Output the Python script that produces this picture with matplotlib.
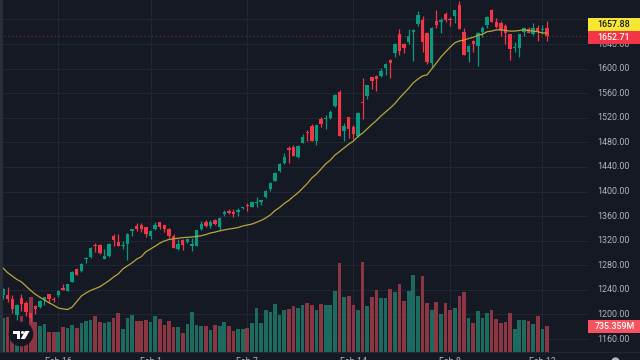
import matplotlib
matplotlib.use("Agg")
import matplotlib.pyplot as plt
from matplotlib.patches import Circle, Polygon, Rectangle

opens = [1232,1232,1225,1199,1227,1219,1202,1214,1212,1223,1233,1225,1232,1243,1238,1253,1274,1271,1291,1293,
         1313,1313,1290,1295,1328,1318,1311,1315,1336,1344,1345,1342,1328,1339,1350,1345,1339,1328,1306,1321,
         1318,1311,1311,1339,1350,1344,1354,1342,1363,1368,1367,1367,1373,1378,1375,1381,1383,1391,1404,1417,
         1433,1446,1471,1472,1456,1479,1497,1507,1482,1518,1518,1520,1539,1562,1498,1521,1505,1490,1546,1555,
         1586,1588,1588,1601,1614,1625,1656,1640,1643,1660,1673,1679,1658,1609,1677,1676,1689,1681,1686,1703,
         1660,1627,1645,1637,1660,1671,1695,1676,1674,1669,1656,1634,1634,1660,1664,1656,1666,1663,1666]
highs = [1243,1245,1232,1217,1233,1222,1203,1215,1224,1229,1234,1228,1240,1249,1249,1270,1275,1284,1293,1309,
         1316,1314,1306,1316,1331,1331,1319,1332,1339,1349,1349,1343,1337,1350,1351,1346,1341,1331,1323,1322,
         1325,1325,1338,1352,1354,1354,1355,1358,1370,1372,1372,1373,1375,1381,1384,1391,1387,1402,1415,1431,
         1446,1463,1474,1476,1475,1494,1500,1510,1509,1521,1525,1533,1558,1565,1511,1522,1508,1529,1585,1574,
         1587,1589,1601,1609,1615,1641,1664,1642,1664,1664,1694,1686,1659,1667,1695,1682,1692,1684,1696,1710,
         1666,1638,1646,1659,1669,1685,1697,1682,1678,1672,1657,1643,1657,1667,1668,1674,1671,1671,1677]
lows = [1225,1220,1202,1191,1206,1198,1188,1201,1210,1215,1219,1220,1228,1240,1238,1252,1264,1269,1284,1292,
        1302,1298,1290,1294,1311,1311,1306,1289,1328,1336,1334,1326,1323,1337,1339,1334,1325,1308,1305,1305,
        1316,1303,1311,1337,1342,1341,1346,1337,1360,1363,1359,1360,1372,1368,1374,1375,1378,1390,1401,1417,
        1432,1445,1446,1458,1454,1479,1482,1482,1476,1505,1502,1518,1538,1490,1482,1487,1486,1489,1518,1551,
        1567,1564,1586,1590,1585,1619,1622,1625,1640,1612,1669,1627,1607,1603,1666,1658,1676,1669,1674,1664,
        1622,1611,1627,1604,1651,1666,1675,1666,1653,1640,1614,1627,1619,1653,1658,1655,1645,1656,1645]
closes = [1241,1225,1209,1215,1217,1204,1194,1209,1222,1228,1225,1224,1238,1240,1249,1269,1264,1282,1292,1308,
          1311,1300,1295,1315,1321,1311,1313,1331,1338,1339,1339,1331,1336,1345,1342,1339,1328,1308,1315,1313,
          1323,1315,1337,1347,1344,1350,1347,1357,1367,1365,1363,1370,1375,1376,1383,1382,1386,1401,1414,1430,
          1445,1456,1468,1458,1474,1489,1495,1482,1508,1510,1520,1529,1557,1490,1507,1502,1494,1528,1544,1573,
          1580,1583,1596,1607,1609,1640,1629,1634,1653,1663,1687,1643,1611,1666,1671,1679,1679,1679,1695,1664,
          1622,1637,1640,1658,1666,1684,1676,1668,1663,1658,1632,1635,1656,1666,1658,1666,1660,1664,1652.71]
ma = [1275.6,1268,1262.5,1257,1253,1246,1239,1233,1228,1223.5,1219,1215,1210.5,1209,1208,1212,1221,1230,1235,1239,
      1242,1245,1250,1255,1261,1266,1274,1279,1284,1290,1294,1302,1306.5,1311,1316,1319.5,1322,1323,1324,1325,
      1325.5,1326,1327,1328,1330,1332.5,1334,1336,1337.5,1339,1340,1341.5,1344,1345.5,1347,1350,1353,1357,1362,1369,
      1374,1380.5,1385.5,1392,1398,1405.4,1413,1422,1428.5,1436.6,1445,1451,1459.4,1465,1471,1477,1482,1489.5,1495,1502,
      1509,1515.5,1523,1529.5,1536,1543,1552,1560,1568,1577,1583,1588,1590,1599.5,1609,1619,1627,1635,1642,1645,
      1646.5,1649,1651,1654,1656,1660,1661,1663,1663,1662,1661,1661,1662,1663,1662,1661,1660,1658,1657.88]
volumes = [972,1001,572,343,1021,715,1573,849,735,792,572,563,563,706,686,772,686,821,878,915,
           1021,849,821,849,972,1107,649,964,1050,878,878,915,849,1021,935,764,878,706,706,535,
           792,1135,764,754,754,640,774,735,859,735,592,669,650,697,840,1269,821,1193,1145,1384,
           1060,1193,1231,1307,1250,1355,1412,1336,1193,1384,1336,1355,1736,2547,1565,1612,1336,1193,2585,1307,
           1565,1765,1536,1536,1803,1708,1937,1450,1736,2194,1593,2165,1412,1193,1431,1079,1412,1212,1250,1612,
           1717,983,821,1164,983,1107,1212,945,840,859,1107,669,926,907,878,793,1040,669,735.359]

price_ticks = [1160,1200,1240,1280,1320,1360,1400,1440,1480,1520,1560,1600,1640]
date_pos = [12,32,53,76,97,117]
date_labels = ["Feb 16","Feb 1","Feb 7","Feb 14","Feb 8","Feb 13"]

BG = "#151924"
GRID = "#222632"
UP = "#089981"
DOWN = "#f23645"
TXT = "#b2b5be"
FONT = "Roboto"

fig = plt.figure(figsize=(6.4, 3.6), dpi=100, facecolor=BG)

# main pane, 588x352 px
ax = fig.add_axes([0, 8 / 360, 588 / 640, 352 / 360], facecolor=BG)
ax.set_xlim(-0.651, 126.9)
ax.set_ylim(1138.9, 1711.6)
for s in ax.spines.values():
    s.set_visible(False)
ax.set_yticks(price_ticks + [1680])
ax.set_xticks(date_pos)
ax.tick_params(length=0, labelleft=False, labelbottom=False)
ax.grid(color=GRID, lw=0.8)
ax.set_axisbelow(True)

# volume shares the x axis, bottom pane scale is in millions
vax = ax.twinx()
vax.set_ylim(0, 10067)
vax.axis("off")
xs = list(range(len(closes)))
up = [c >= o for o, c in zip(opens, closes)]
vcol = ["#1d6a5f" if u else "#8c3644" for u in up]
vax.bar(xs, volumes, width=0.8, color=vcol, zorder=1)

# candles on a third layer so they sit over the volume
cax = ax.twinx()
cax.set_ylim(ax.get_ylim())
cax.axis("off")
ccol = [UP if u else DOWN for u in up]
cax.vlines(xs, lows, highs, colors=ccol, lw=0.9, zorder=2)
cax.bar(xs, [abs(c - o) + 0.6 for o, c in zip(opens, closes)],
        bottom=[min(o, c) - 0.3 for o, c in zip(opens, closes)],
        width=0.74, color=ccol, zorder=3)
cax.plot(xs, ma, color="#b8a63a", lw=0.9, zorder=4)
cax.axhline(closes[-1], color=DOWN, lw=0.7, ls=(0, (1, 3)), alpha=0.6, zorder=4)

# overlay in pixel coords for the price scale, boxes and logo
ov = fig.add_axes([0, 0, 1, 1], facecolor="none")
ov.set_xlim(0, 640)
ov.set_ylim(360, 0)
ov.axis("off")
ov.add_patch(Rectangle((0, 0), 3, 352, color="#2a2e39", lw=0))
ov.plot([0, 640], [352, 352], color=GRID, lw=0.8)

py = lambda p: (1711.6 - p) / 1.627
for p in price_ticks:
    ov.text(597, py(p), f"{p:.2f}", color=TXT, fontsize=6.4, family=FONT, va="center", ha="left", zorder=3)
for i, lab in zip(date_pos, date_labels):
    ov.text(3 + 4.61 * i, 357.4, lab, color=TXT, fontsize=6.4, family=FONT, va="top", ha="center")
ov.plot([615], [361], "o", ms=5, color=TXT, clip_on=True)

ov.add_patch(Rectangle((588, 17.7), 52, 13.3, color="#f7e733", lw=0, zorder=4))
ov.add_patch(Rectangle((588, 31), 52, 12.6, color="#f23645", lw=0, zorder=4))
ov.add_patch(Rectangle((588, 320), 52, 12.7, color="#f7525f", lw=0, zorder=4))
ov.text(597, 24.5, f"{ma[-1]:.2f}", color="#131722", fontsize=6.4, family=FONT, weight="medium", va="center", zorder=5)
ov.text(597, 37.3, f"{closes[-1]:.2f}", color="white", fontsize=6.4, family=FONT, weight="medium", va="center", zorder=5)
ov.text(595, 326.5, f"{volumes[-1]:.3f}M", color="white", fontsize=6.4, family=FONT, weight="medium", va="center", zorder=5)

# TV logo
ov.add_patch(Circle((21, 334), 12.3, color="#131722", lw=0, zorder=5))
ov.add_patch(Rectangle((12.7, 331), 7.3, 3, color="white", lw=0, zorder=6))
ov.add_patch(Rectangle((16.6, 331), 3.4, 8, color="white", lw=0, zorder=6))
ov.add_patch(Circle((22.5, 332.5), 1.5, color="white", lw=0, zorder=6))
ov.add_patch(Polygon([(25, 331), (29.5, 331), (25, 339), (20.8, 339)], color="white", lw=0, zorder=6))

fig.savefig("out.png", dpi=100, facecolor=BG)
